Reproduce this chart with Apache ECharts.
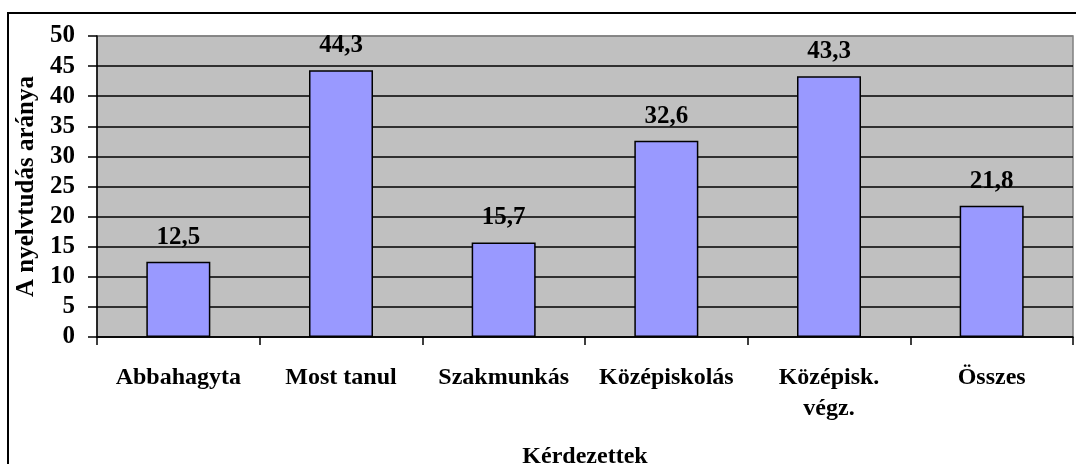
<!DOCTYPE html>
<html>
<head>
<meta charset="utf-8">
<script src="https://cdn.jsdelivr.net/npm/echarts@6/dist/echarts.min.js"></script>
<style>
  html, body { margin: 0; padding: 0; background: #fff; }
  #chart { width: 1076px; height: 464px; }
</style>
</head>
<body>
<div id="chart"></div>
<script>
// kategóriák és értékek
var categories = ['Abbahagyta', 'Most tanul', 'Szakmunkás', 'Középiskolás', 'Középisk.\nvégz.', 'Összes'];
var values = [12.5, 44.3, 15.7, 32.6, 43.3, 21.8];
var yTicks = { min: 0, max: 50, interval: 5 };

var font = '"Liberation Serif", "Times New Roman", serif';

// a felső (50-es) vonal szürke, a többi fekete
var splitColors = [];
for (var i = 0; i <= (yTicks.max - yTicks.min) / yTicks.interval; i++) {
    splitColors.push(i === (yTicks.max - yTicks.min) / yTicks.interval ? '#808080' : '#000');
}

var chart = echarts.init(document.getElementById('chart'));
chart.setOption({
    animation: false,
    backgroundColor: '#fff',
    graphic: [
        {
            type: 'rect',
            z: -10,
            shape: { x: 8, y: 13, width: 1200, height: 600 },
            style: { fill: null, stroke: '#000', lineWidth: 2 }
        }
    ],
    grid: {
        left: 97,
        top: 36,
        right: 3,
        bottom: 127,
        containLabel: false,
        outerBoundsMode: 'none',
        show: true,
        backgroundColor: '#c0c0c0',
        borderColor: '#808080',
        borderWidth: 1.5
    },
    xAxis: {
        type: 'category',
        data: categories,
        name: 'Kérdezettek',
        nameLocation: 'middle',
        nameGap: 108,
        nameTextStyle: { fontFamily: font, fontWeight: 'bold', fontSize: 24, color: '#000' },
        axisLine: { lineStyle: { color: '#000', width: 1.5 } },
        axisTick: { show: true, length: 8, lineStyle: { color: '#000', width: 1.5 } },
        axisLabel: {
            interval: 0,
            margin: 25,
            fontFamily: font,
            fontWeight: 'bold',
            fontSize: 24,
            lineHeight: 31,
            color: '#000'
        }
    },
    yAxis: {
        type: 'value',
        min: yTicks.min,
        max: yTicks.max,
        interval: yTicks.interval,
        name: 'A nyelvtudás aránya',
        nameLocation: 'middle',
        nameGap: 52,
        nameTextStyle: { fontFamily: font, fontWeight: 'bold', fontSize: 25, color: '#000' },
        axisLine: { show: true, lineStyle: { color: '#000', width: 1.5 } },
        axisTick: { show: true, length: 9, lineStyle: { color: '#000', width: 1.5 } },
        axisLabel: {
            margin: 22,
            fontFamily: font,
            fontWeight: 'bold',
            fontSize: 25,
            color: '#000'
        },
        splitLine: { show: true, lineStyle: { color: splitColors, width: 1.5 } }
    },
    series: [
        {
            type: 'bar',
            data: values,
            barWidth: 64,
            itemStyle: { color: '#9999ff', borderColor: '#000', borderWidth: 1.5 },
            label: {
                show: true,
                position: 'top',
                distance: 12,
                fontFamily: font,
                fontWeight: 'bold',
                fontSize: 25,
                color: '#000',
                formatter: function (p) {
                    return String(p.value).replace('.', ',');
                }
            }
        }
    ]
});
</script>
</body>
</html>
